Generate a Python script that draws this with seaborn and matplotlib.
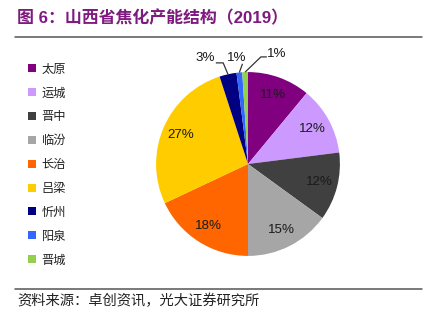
import numpy as np
import matplotlib
matplotlib.use("Agg")
import matplotlib.pyplot as plt
from matplotlib.lines import Line2D
import seaborn as sns

# 2019 coking capacity share by city (%)
cities = ["太原", "运城", "晋中", "临汾", "长治", "吕梁", "忻州", "阳泉", "晋城"]
shares = [11, 12, 12, 15, 18, 27, 3, 1, 1]
city_colors = ["#800080", "#CC99FF", "#404040", "#A6A6A6", "#FF6600",
               "#FFCC00", "#000080", "#3366FF", "#92D050"]

title = "图 6：山西省焦化产能结构（2019）"
source = "资料来源：卓创资讯，光大证券研究所"

sns.set_theme(style="white")
palette = sns.color_palette(city_colors)
plt.rcParams["font.family"] = ["Liberation Sans", "Noto Sans CJK SC", "DejaVu Sans"]

W, H = 436, 322
fig = plt.figure(figsize=(W / 100, H / 100), dpi=100)
fig.patch.set_facecolor("white")

# pie axes: square box centred on the pie
cx, cy, S = 248, 164, 239
ax = fig.add_axes([(cx - S / 2) / W, (H - cy - S / 2) / H, S / W, S / H])

wedges, _, autotexts = ax.pie(
    shares, colors=palette, startangle=90, counterclock=False,
    autopct=lambda p: f"{p:.0f}%" if p >= 5 else "",
    pctdistance=0.8, wedgeprops=dict(linewidth=0),
    textprops=dict(fontsize=9.6, color="#1a1a1a"),
)
lim = 1.3
ax.set_xlim(-lim, lim)
ax.set_ylim(-lim, lim)
ax.set_aspect("equal")
ax.axis("off")

# small slices get outside labels with leader lines
small = [i for i, v in enumerate(shares) if v < 5]
# text x, text y, elbow x, elbow y, end of horizontal stub (pie units)
callouts = {
    6: (-0.47, 1.15, -0.27, 1.10, -0.35),
    7: (-0.12, 1.15, -0.06, 1.09, None),
    8: (0.31, 1.20, 0.14, 1.165, 0.205),
}
for i in small:
    w = wedges[i]
    ang = np.deg2rad((w.theta1 + w.theta2) / 2)
    ax_, ay_ = np.cos(ang), np.sin(ang)
    tx, ty, ex, ey, hx = callouts[i]
    ax.text(tx, ty, f"{shares[i]:.0f}%", ha="center", va="center",
            fontsize=9.6, color="#1a1a1a")
    xs, ys = [ax_, ex], [ay_, ey]
    if hx is not None:
        xs.append(hx)
        ys.append(ey)
    ax.plot(xs, ys, color="#333333", lw=0.9, solid_capstyle="butt",
            clip_on=False)

# legend with small square markers
handles = [Line2D([0], [0], marker="s", linestyle="none", markersize=5.2,
                  markerfacecolor=c, markeredgewidth=0) for c in palette]
leg = fig.legend(handles, cities, loc="upper left",
                 bbox_to_anchor=(27 / W, 1 - 62.5 / H), frameon=False,
                 handlelength=0.75, handletextpad=0.45, labelspacing=0.89,
                 borderpad=0, borderaxespad=0,
                 prop=dict(family=["Noto Sans CJK SC"], size=8.8))
for t in leg.get_texts():
    t.set_color("#222222")

# title, rules and source
fig.text(17 / W, 1 - 18 / H, title, ha="left", va="center",
         fontsize=12.2, fontweight="bold", color="#7E1A80",
         family=["Liberation Sans", "Noto Sans CJK SC"])
for yy in (37.3, 288.5):
    fig.add_artist(Line2D([15 / W, 422 / W], [1 - yy / H, 1 - yy / H],
                          color="#555555", lw=1.1))
fig.text(17 / W, 1 - 301 / H, source, ha="left", va="center",
         fontsize=10.3, color="#222222",
         family=["Noto Sans CJK SC", "DejaVu Sans"])

fig.savefig("out.png", dpi=100)
